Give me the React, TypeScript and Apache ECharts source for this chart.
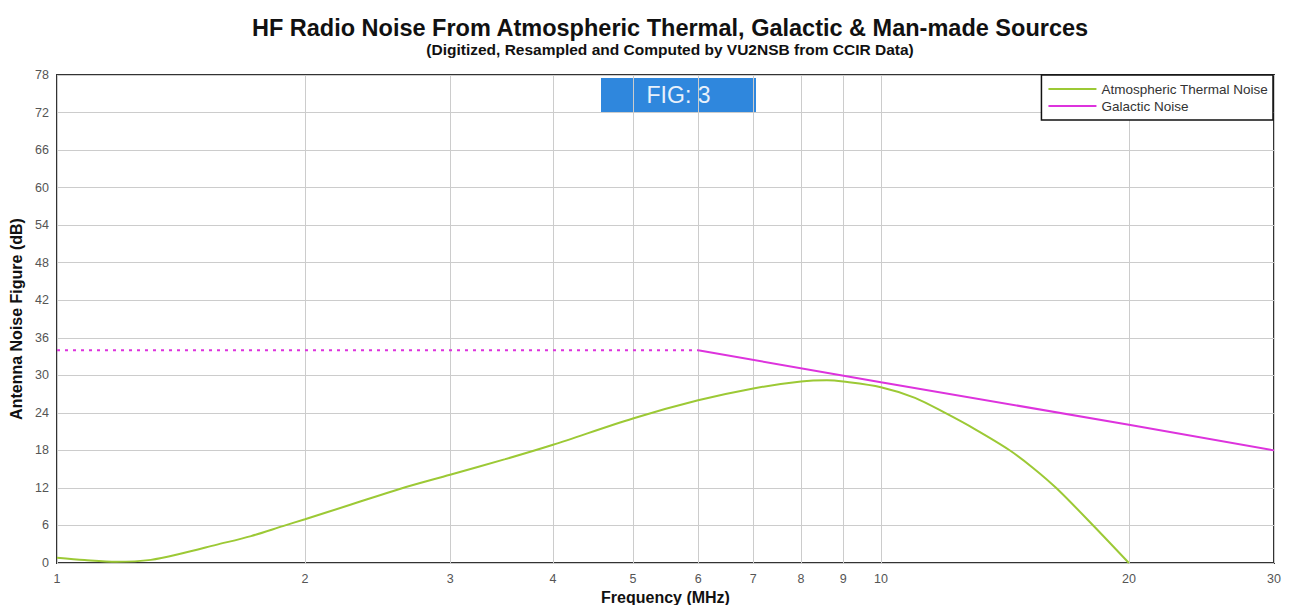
import React, { useEffect, useRef } from 'react';
import * as echarts from 'echarts';

// Frequency ticks (MHz) shown on the logarithmic x axis
const xTickFreqs = [1, 2, 3, 4, 5, 6, 7, 8, 9, 10, 20, 30];

const atmFreq = [1, 1.08, 1.18, 1.3, 1.42, 1.56, 1.72, 1.88, 2, 2.27, 2.6, 3, 3.5, 4, 5, 6, 7, 8, 8.6, 9, 10, 11, 12, 13, 14.3, 15.3, 16.35, 18.1, 20];
const atmDb = [0.85, 0.48, 0.2, 0.5, 1.55, 2.9, 4.3, 5.9, 7.0, 9.3, 11.8, 14.1, 16.6, 18.9, 23.1, 26.0, 27.9, 29.0, 29.2, 29.0, 28.1, 26.4, 23.9, 21.4, 18.1, 15.2, 11.9, 6.0, 0];

// Galactic noise: extrapolated (dotted) and computed (solid)
const galDottedFreq = [1, 6];
const galDottedDb = [34, 34];
const galFreq = [6, 10, 20, 30];
const galDb = [34, 28.9, 22.1, 18];

const lg = (v: number) => Math.log10(v);
const pairs = (f: number[], d: number[]) => f.map((x, i) => [lg(x), d[i]]);

const GREEN = '#9cc935';
const MAGENTA = '#dd33dd';
const FONT = '"Liberation Sans", Arial, sans-serif';

export default function App() {
  const ref = useRef<HTMLDivElement>(null);
  useEffect(() => {
    if (!ref.current) return;
    const chart = echarts.init(ref.current, undefined, { renderer: 'svg' });
    const tickVals = xTickFreqs.map(lg);
    chart.setOption({
      animation: false,
      backgroundColor: '#ffffff',
      textStyle: { fontFamily: FONT },
      title: [
        {
          text: 'HF Radio Noise From Atmospheric Thermal, Galactic & Man-made Sources',
          left: 665,
          top: 11,
          textAlign: 'center',
          textStyle: { fontSize: 23.5, fontWeight: 'bold', color: '#111', fontFamily: FONT },
        },
        {
          text: '(Digitized, Resampled and Computed by VU2NSB from CCIR Data)',
          left: 665,
          top: 36,
          textAlign: 'center',
          textStyle: { fontSize: 15.5, fontWeight: 'bold', color: '#111', fontFamily: FONT },
        },
      ],
      grid: {
        left: 57,
        right: 17,
        top: 75,
        bottom: 42,
        outerBoundsMode: 'none',
        containLabel: false,
        show: true,
        borderColor: '#333',
        borderWidth: 2,
        backgroundColor: 'transparent',
      },
      legend: {
        orient: 'vertical',
        right: 18,
        top: 75,
        backgroundColor: '#fff',
        borderColor: '#111',
        borderWidth: 1.5,
        padding: [7, 5, 7, 7],
        itemWidth: 48,
        itemHeight: 2,
        itemGap: 3,
        icon: 'rect',
        textStyle: { fontSize: 13.5, color: '#333', fontFamily: FONT },
        data: ['Atmospheric Thermal Noise', 'Galactic Noise'],
      },
      xAxis: {
        type: 'value',
        min: 0,
        max: lg(30),
        name: 'Frequency (MHz)',
        nameLocation: 'middle',
        nameGap: 25,
        nameTextStyle: { fontSize: 16, fontWeight: 'bold', color: '#111', fontFamily: FONT },
        axisLine: { show: false },
        axisTick: { show: false, customValues: tickVals },
        axisLabel: {
          customValues: tickVals,
          formatter: (v: number) => String(Math.round(Math.pow(10, v))),
          color: '#555',
          fontSize: 12.5,
          margin: 9,
        },
        splitLine: { show: true, lineStyle: { color: '#cccccc', width: 1 } },
      },
      yAxis: {
        type: 'value',
        min: 0,
        max: 78,
        interval: 6,
        name: 'Antenna Noise Figure (dB)',
        nameLocation: 'middle',
        nameGap: 31,
        nameTextStyle: { fontSize: 16, fontWeight: 'bold', color: '#111', fontFamily: FONT },
        axisLine: { show: false },
        axisTick: { show: false },
        axisLabel: { color: '#555', fontSize: 12.5, margin: 8 },
        splitLine: { show: true, lineStyle: { color: '#cccccc', width: 1 } },
      },
      series: [
        {
          name: 'Atmospheric Thermal Noise',
          type: 'line',
          data: pairs(atmFreq, atmDb),
          smooth: 0.3,
          showSymbol: false,
          color: GREEN,
          lineStyle: { color: GREEN, width: 2 },
        },
        {
          name: 'Galactic Noise',
          type: 'line',
          data: pairs(galFreq, galDb),
          showSymbol: false,
          color: MAGENTA,
          lineStyle: { color: MAGENTA, width: 2 },
        },
        {
          name: 'Galactic Noise',
          type: 'line',
          data: pairs(galDottedFreq, galDottedDb),
          showSymbol: false,
          color: MAGENTA,
          lineStyle: { color: MAGENTA, width: 2, type: [3, 5] },
        },
      ],
      graphic: [
        {
          type: 'group',
          left: 601,
          top: 78,
          children: [
            { type: 'rect', shape: { x: 0, y: 0, width: 155, height: 34 }, style: { fill: '#2f87dd' } },
            {
              type: 'text',
              x: 77.5,
              y: 17,
              style: {
                text: 'FIG: 3',
                fill: '#e8f1fb',
                fontSize: 23,
                fontFamily: FONT,
                align: 'center',
                verticalAlign: 'middle',
              },
            },
          ],
        },
      ],
    });
    return () => chart.dispose();
  }, []);
  return <div ref={ref} style={{ position: 'absolute', left: 0, top: 0, width: 1291, height: 605 }} />;
}
